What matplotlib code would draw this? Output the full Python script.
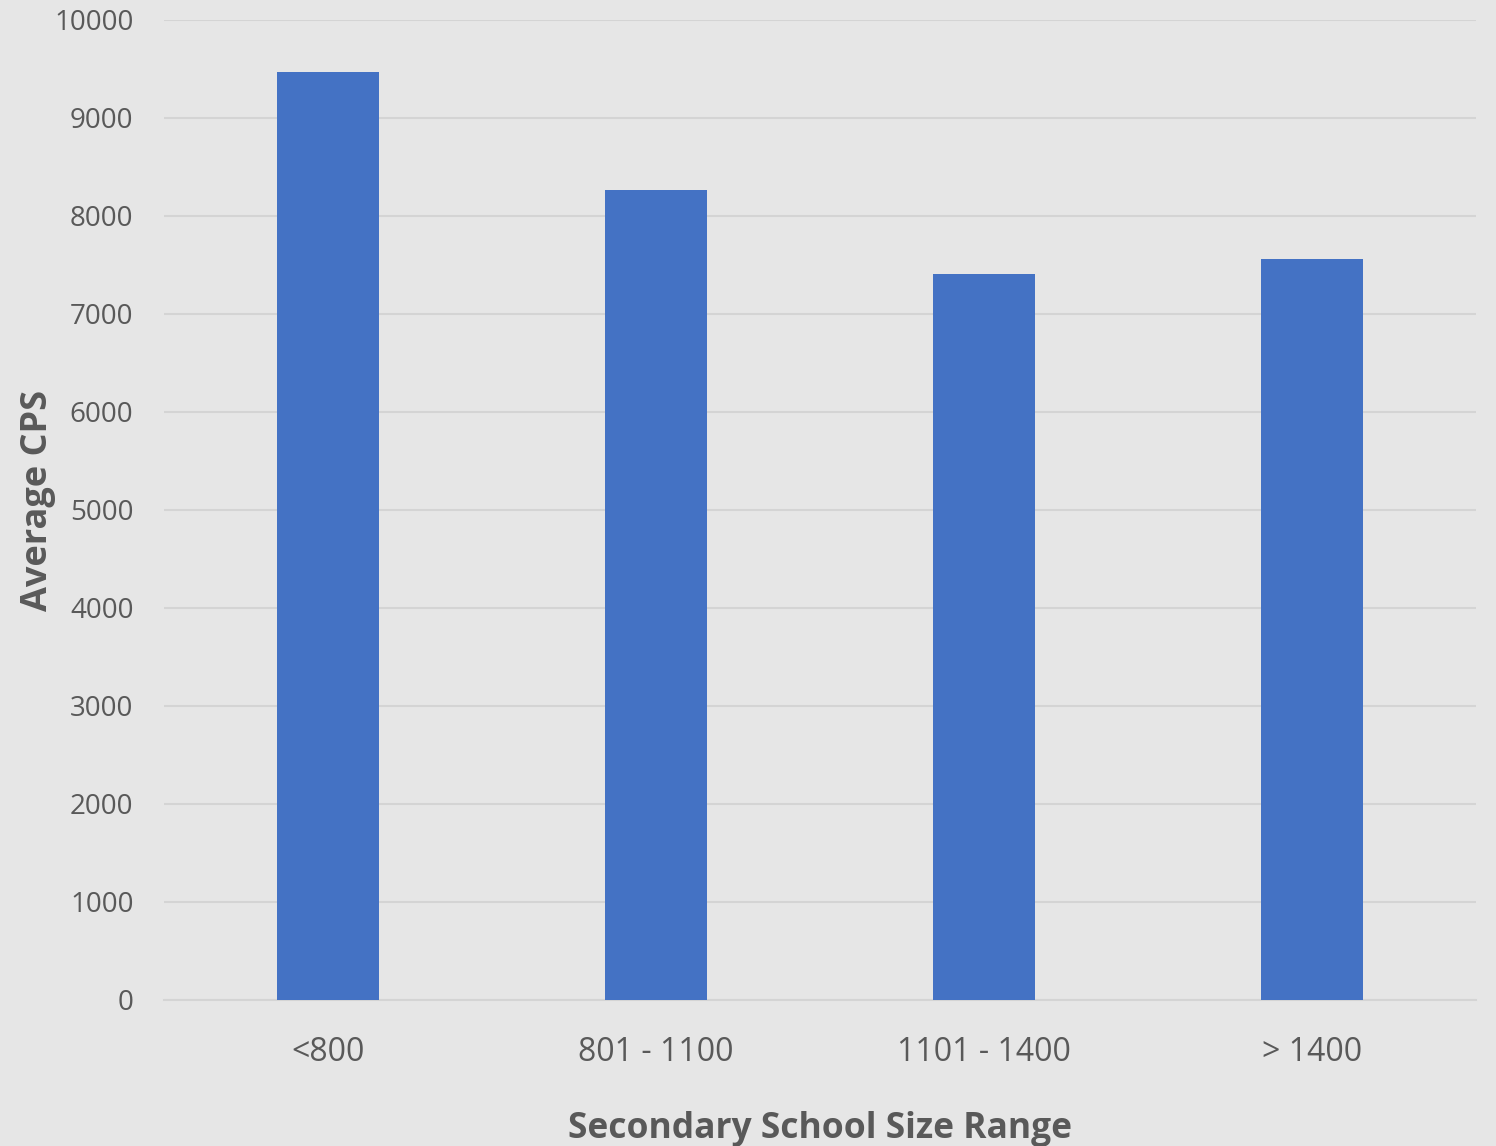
import matplotlib.pyplot as plt

categories = ["<800", "801 - 1100", "1101 - 1400", "> 1400"]
avg_cps = [9470, 8265, 7410, 7565]

plt.rcParams["font.family"] = ["Open Sans", "DejaVu Sans"]

bg = "#e6e6e6"
txt = "#595959"

fig = plt.figure(figsize=(14.96, 11.46), dpi=100, facecolor=bg)
ax = fig.add_axes([164 / 1496, 1 - 1000 / 1146, 1312 / 1496, 980 / 1146])
ax.set_facecolor(bg)

x = range(len(categories))
ax.bar(x, avg_cps, width=0.314, color="#4472C4", zorder=3)

ax.set_xlim(-0.5, 3.5)
ax.set_ylim(0, 10000)
ax.set_yticks(range(0, 10001, 1000))
ax.set_xticks(list(x))
ax.set_xticklabels(categories)
ax.grid(axis="y", color="#d4d4d4", linewidth=1.5, zorder=0)
for s in ["top", "right", "left"]:
    ax.spines[s].set_visible(False)
ax.spines["bottom"].set_color("#d4d4d4")
ax.spines["bottom"].set_linewidth(1.5)
ax.tick_params(axis="both", length=0, colors=txt)
ax.tick_params(axis="x", pad=26, labelsize=23)
ax.tick_params(axis="y", pad=22, labelsize=20)

ax.set_xlabel("Secondary School Size Range", fontsize=25.5, fontweight="bold", color=txt, labelpad=30)
ax.set_ylabel("Average CPS", fontsize=26, fontweight="bold", color=txt)
ax.yaxis.set_label_coords(-108 / 1312, 0.51)

fig.savefig("out.png", dpi=100, facecolor=bg)
